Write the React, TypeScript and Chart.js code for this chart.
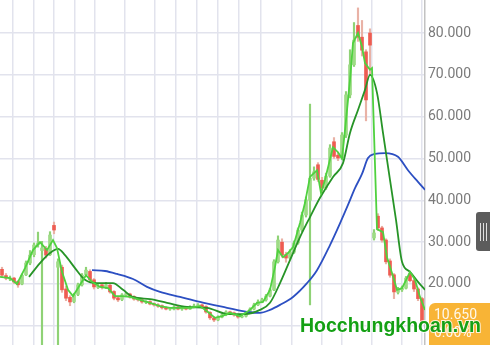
import { useEffect, useRef } from 'react';
import { Chart, registerables } from 'chart.js';

Chart.register(...registerables);

// Prices in thousands of VND, one candle per trading-day slot
const opens = [23.5,22.0,21.2,21.4,20.6,20.0,22.2,25.0,27.0,29.4, 28.0,28.5,27.0,34.0,24.0,24.0,18.8,16.8,15.8,17.5, 19.8,22.2,23.0,21.0,19.2,19.8,19.2,19.7,18.2,16.7, 16.3,17.3,17.6,17.0,16.4,16.2,15.6,15.8,15.3,15.0, 14.8,14.3,14.0,14.0,14.5,14.0,14.1,14.0,14.5,14.7, 15.0,14.6,13.2,11.9,11.4,12.1,12.6,13.3,13.1,12.6, 12.1,12.3,13.1,14.0,15.0,15.9,16.2,17.1,18.6,25.3, 30.0,27.0,26.2,27.6,29.8,32.9,36.5,40.0,45.3,48.5, 44.8,43.0,45.8,54.0,50.8,50.2,55.6,65.2,72.4,81.8, 79.0,75.5,80.0,31.0,36.2,33.4,30.5,25.5,22.2,18.0, 18.6,19.0,22.4,20.8,18.8,16.5];
const closes = [22.1,21.4,21.4,20.5,19.8,22.1,25.0,26.9,29.3,29.8, 28.6,26.9,31.7,32.9,25.3,18.6,16.6,15.7,17.4,19.8, 22.1,23.3,21.0,19.3,19.5,19.3,19.8,18.1,16.6,16.2, 17.4,17.6,16.9,16.4,16.2,15.7,15.7,15.2,15.0,14.7, 14.3,14.0,14.0,14.5,14.0,14.0,14.0,14.5,14.7,15.0, 14.5,13.3,11.9,11.4,12.1,12.6,13.3,13.1,12.6,12.1, 12.3,13.1,14.0,15.0,15.7,16.2,17.1,18.6,25.3,30.5, 26.9,26.2,27.6,29.8,32.9,36.5,40.1,45.3,46.8,45.0, 42.9,45.8,52.5,50.5,50.1,55.6,65.2,72.4,78.3,79.0, 75.9,64.0,77.1,32.2,33.4,30.5,25.3,22.1,18.1,18.6, 19.0,21.4,20.8,18.8,16.5,10.65];
const highs = [24.0,22.5,21.9,21.6,20.8,22.4,25.5,28.0,29.8,32.4, 30.2,29.0,32.5,34.8,26.0,24.5,19.5,17.2,17.8,20.2, 22.5,24.0,23.4,21.3,20.0,20.1,20.4,20.0,18.4,17.0, 17.7,18.0,17.8,17.2,16.7,16.5,16.0,16.0,15.5,15.3, 15.0,14.6,14.4,14.8,14.7,14.3,14.4,14.8,15.2,15.3, 15.2,14.8,13.4,12.2,12.4,12.9,13.6,13.5,13.3,12.8, 12.6,13.4,14.3,15.4,16.2,16.6,17.5,19.0,25.8,31.5, 30.8,27.6,28.2,30.3,33.4,37.2,40.8,63.0,48.0,49.0, 45.5,46.5,53.3,55.0,51.5,56.2,66.0,76.0,82.5,86.0, 83.0,76.0,81.0,33.0,36.8,33.8,30.8,26.0,22.5,19.2, 19.5,21.8,22.6,21.2,19.1,16.8];
const lows = [21.6,21.0,20.8,20.1,19.2,19.8,22.0,24.6,26.5,28.8, 1.0,26.2,26.8,32.0,1.0,18.0,16.0,14.8,15.5,17.2, 19.5,21.8,20.6,18.8,18.9,18.8,18.9,17.8,16.2,15.8, 16.0,17.0,16.6,16.1,15.9,15.4,15.3,15.0,14.7,14.4, 14.0,13.8,13.7,13.8,13.8,13.7,13.8,13.9,14.3,14.5, 14.2,13.0,11.5,11.0,11.2,11.9,12.4,12.8,12.3,11.8, 11.9,12.1,12.9,13.8,14.8,15.5,15.9,16.9,18.4,25.0, 26.4,25.2,25.9,27.3,29.5,32.5,36.0,15.0,44.8,44.5, 41.5,42.6,45.5,50.0,49.5,49.8,55.0,64.5,72.0,78.0, 74.5,59.0,70.0,30.5,32.8,30.0,24.8,21.6,16.5,17.6, 18.2,18.8,20.5,18.2,16.0,10.4];

// Moving averages (day slot, value)
const fastMaDays = [-0.5,2,3.75,5.75,7.75,9.5,11.25,12.75,13.75,15,16.5,17.75,19.5,21,22.5,24.5,26.5,28.25,30,32,34.5,37,39.5,42,44.5,47,49.5,51.5,53.25,55,57,59.5,62,63.75,65.25,67,68.25,69,70.25,71.5,72.75,74.5,75.75,77,78.75,79.75,80.75,82.75,84,85,85.75,87,87.75,89,90,90.75,92,92.5,93.75,95.25,96.25,97.5,98.75,100,101.25,102,103.25,104.5,105.75];
const fastMa = [21.7,21.4,20.0,23.8,28.1,30.0,28.1,30.5,28.6,22.9,18.6,17.1,19.8,22.1,20.5,19.3,19.0,17.1,17.1,16.9,16.2,15.5,14.7,14.3,14.3,14.3,14.7,13.3,11.9,12.3,13.1,12.3,13.8,15.5,15.7,18.6,24.1,28.1,26.4,27.4,28.8,34.6,39.4,45.6,47.2,41.7,44.9,52.7,51.5,50.0,56.8,68.8,77.6,80.0,76.7,72.8,71.2,71.6,33.1,32.4,26.4,22.6,18.6,19.0,21.4,22.9,21.0,16.9,13.8];
const midMaDays = [6.75,9.5,12,14,15.75,18.25,20.75,23.75,27.75,30.25,32.75,37,41.25,46.25,51.25,56.5,60.75,64.5,67,69.5,72,74.5,77,79.5,82.75,85.25,87,89,90.75,92,93.75,95.25,97,98.5,100,102,104,105.75];
const midMa = [21.7,25.0,27.4,28.4,26.9,23.8,21.0,20.2,20.2,18.6,16.9,16.4,15.5,14.5,14.3,12.8,12.8,13.8,15.5,20.2,25.7,31.2,36.0,40.6,45.6,48.9,56.1,61.6,66.4,70.0,65.7,56.1,44.9,35.3,25.3,22.9,20.5,18.6];
const slowMaDays = [22.5,25.75,28.75,32.75,36.25,39.5,44.5,49.5,56.25,61.25,64.5,67,69.5,72.75,76.25,78.75,82,84.5,86.5,88.25,90,91.5,93.25,95.75,99,101.5,104,105.75];
const slowMa = [23.3,23.1,22.4,21.2,19.3,18.1,16.9,15.7,14.3,13.3,13.1,13.8,15.0,16.9,20.2,23.3,29.3,34.5,38.9,42.9,46.3,50.1,51.1,51.3,50.4,47.2,44.4,42.5];

const yTickValues = [10, 20, 30, 40, 50, 60, 70, 80];
const xGridDays = [0.25,5.25,10.5,15.5,20.75,25.75,35.75,40.75,46,51.25,56.5,62,67.5,77.5,82.5,87.5,97.5,102.5];
const lastPriceLabel = '10.650';
const lastChangeLabel = '0.00%';
const watermarkText = 'Hocchungkhoan.vn';

const fmt = (v: number) => (v * 1000).toLocaleString('de-DE');

export default function App() {
  const ref = useRef<HTMLCanvasElement>(null);
  useEffect(() => {
    const canvas = ref.current!;
    const up = closes.map((c, i) => c >= opens[i]);
    const overlay = {
      id: 'overlay',
      afterDraw(chart: any) {
        const ctx = chart.ctx as CanvasRenderingContext2D;
        ctx.save();
        // last price tag
        ctx.fillStyle = '#f8b436';
        ctx.beginPath();
        (ctx as any).roundRect(429, 303, 70, 50, [6, 0, 0, 6]);
        ctx.fill();
        ctx.fillStyle = 'rgba(255,255,255,0.9)';
        ctx.font = '14px Roboto';
        ctx.textBaseline = 'middle';
        ctx.textAlign = 'left';
        ctx.fillText(lastPriceLabel, 434, 315);
        ctx.fillText(lastChangeLabel, 434, 333);
        // scroll handle
        ctx.fillStyle = '#5c5c5c';
        ctx.beginPath();
        (ctx as any).roundRect(476, 212, 20, 39, [3, 0, 0, 3]);
        ctx.fill();
        ctx.strokeStyle = '#e0e0e0';
        ctx.lineWidth = 1;
        [480.5, 483.5, 486.5].forEach((x) => {
          ctx.beginPath();
          ctx.moveTo(x, 223);
          ctx.lineTo(x, 241);
          ctx.stroke();
        });
        // watermark
        ctx.font = 'bold 19.5px "Liberation Sans"';
        ctx.textBaseline = 'alphabetic';
        ctx.lineWidth = 2;
        ctx.strokeStyle = 'rgba(255,255,255,0.8)';
        ctx.strokeText(watermarkText, 300, 332);
        ctx.fillStyle = '#14a014';
        ctx.fillText(watermarkText, 300, 332);
        ctx.restore();
      },
    };
    const chart = new Chart(canvas, {
      type: 'bar',
      data: {
        datasets: [
          {
            type: 'line',
            data: fastMaDays.map((d, i) => ({ x: d, y: fastMa[i] })),
            borderColor: '#4fd13f',
            borderWidth: 1.8,
            pointRadius: 0,
            tension: 0,
            order: 0,
          } as any,
          {
            type: 'line',
            data: midMaDays.map((d, i) => ({ x: d, y: midMa[i] })),
            borderColor: '#279427',
            borderWidth: 1.8,
            pointRadius: 0,
            cubicInterpolationMode: 'monotone',
            order: 0,
          } as any,
          {
            type: 'line',
            data: slowMaDays.map((d, i) => ({ x: d, y: slowMa[i] })),
            borderColor: '#2c4fc2',
            borderWidth: 1.8,
            pointRadius: 0,
            cubicInterpolationMode: 'monotone',
            order: 0,
          } as any,
          {
            type: 'bar',
            data: opens.map((o, i) => ({ x: i, y: [o, closes[i]] })),
            backgroundColor: up.map((u) => (u ? '#9edb86' : '#ee5c52')),
            barThickness: 3,
            minBarLength: 1,
            grouped: false,
            order: 1,
          } as any,
          {
            type: 'bar',
            data: lows.map((l, i) => ({ x: i, y: [l, highs[i]] })),
            backgroundColor: up.map((u) => (u ? '#8fd276' : '#e9b2a6')),
            barThickness: 1.5,
            grouped: false,
            order: 2,
          } as any,
        ],
      },
      options: {
        animation: false,
        responsive: false,
        devicePixelRatio: 1,
        layout: { padding: 0 },
        plugins: { legend: { display: false }, tooltip: { enabled: false } },
        scales: {
          x: {
            type: 'linear',
            min: -0.5,
            max: 105.75,
            offset: false,
            afterBuildTicks: (s: any) => {
              s.ticks = xGridDays.map((v) => ({ value: v }));
            },
            afterFit: (s: any) => {
              s.height = 0;
              s.paddingLeft = 0;
              s.paddingRight = 0;
            },
            ticks: { display: false },
            grid: { color: '#e2e3ed', lineWidth: 1.5, drawTicks: false },
            border: { display: false },
          },
          y: {
            type: 'linear',
            position: 'right',
            min: 5.41,
            max: 87.89,
            afterBuildTicks: (s: any) => {
              s.ticks = yTickValues.map((v) => ({ value: v }));
            },
            afterFit: (s: any) => {
              s.width = 65;
              s.paddingTop = 0;
              s.paddingBottom = 0;
            },
            ticks: {
              callback: (v: any) => fmt(Number(v)),
              color: '#7a7a7a',
              font: { family: 'Roboto', size: 14 },
              padding: 3,
            },
            grid: { color: '#e2e3ed', lineWidth: 1.5, drawTicks: false },
            border: { display: true, color: '#c2c2c2', width: 1.5 },
          },
        },
      } as any,
      plugins: [overlay],
    });
    return () => chart.destroy();
  }, []);
  return (
    <div style={{ position: 'fixed', left: 0, top: 0, width: 490, height: 345, background: '#fff' }}>
      <canvas ref={ref} width={490} height={345} style={{ display: 'block' }} />
    </div>
  );
}
